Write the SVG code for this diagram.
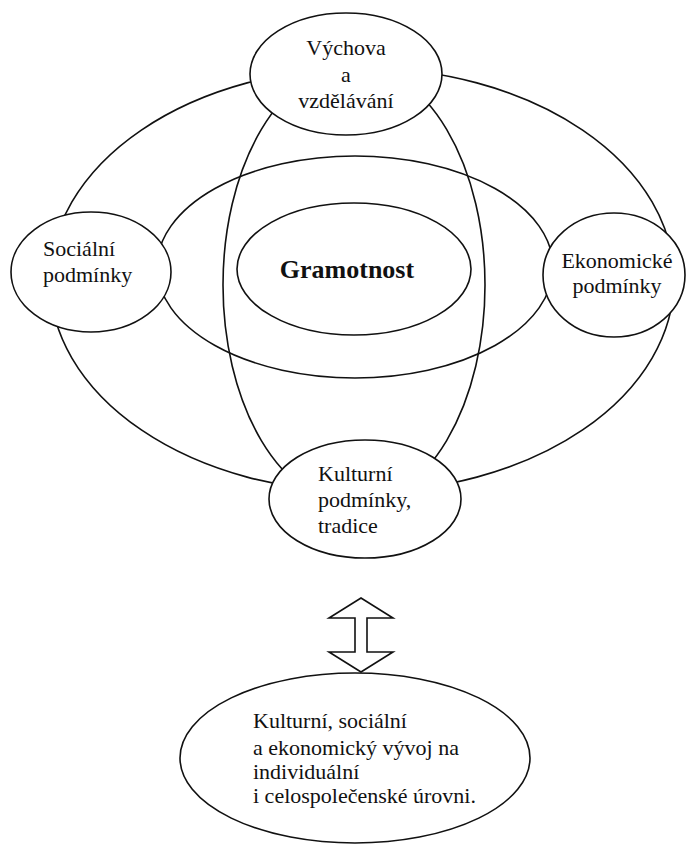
<svg xmlns="http://www.w3.org/2000/svg" width="686" height="845" viewBox="0 0 686 845">
<style>
.ring{fill:none;stroke:#111;stroke-width:1.6}
.node{fill:#fff;stroke:#111;stroke-width:1.6}
.t{font-family:'Liberation Serif','Times New Roman',Times,serif;font-size:22px;fill:#111}
.c{text-anchor:middle}
.b{font-weight:bold;font-size:26px}
</style>
<rect width="686" height="845" fill="#fff"/>
<g id="rings">
<ellipse class="ring" cx="362" cy="280" rx="312" ry="212"/>
<ellipse class="ring" cx="355" cy="267" rx="198" ry="111"/>
<ellipse class="ring" cx="354" cy="285" rx="131" ry="220"/>
</g>
<g id="connectors">
<path class="ring" d="M361 598 L393 618 L367 618 L367 652 L393 652 L361 672 L329 652 L355 652 L355 618 L329 618 Z"/>
</g>
<g id="gramotnost">
<ellipse class="ring" cx="354" cy="269" rx="117" ry="66"/>
<text class="t c b" x="347" y="278">Gramotnost</text>
</g>
<g id="vychova">
<ellipse class="node" cx="346" cy="74" rx="96" ry="61"/>
<text class="t c" x="346" y="55">Výchova</text>
<text class="t c" x="346" y="82">a</text>
<text class="t c" x="346" y="108">vzdělávání</text>
</g>
<g id="socialni">
<ellipse class="node" cx="91" cy="272" rx="80" ry="60"/>
<text class="t" x="43" y="256">Sociální</text>
<text class="t" x="43" y="282">podmínky</text>
</g>
<g id="ekonomicke">
<ellipse class="node" cx="614" cy="275" rx="71" ry="62"/>
<text class="t c" x="617" y="268">Ekonomické</text>
<text class="t c" x="617" y="293">podmínky</text>
</g>
<g id="kulturni">
<ellipse class="node" cx="365" cy="499" rx="96" ry="59"/>
<text class="t" x="318" y="481">Kulturní</text>
<text class="t" x="318" y="507">podmínky,</text>
<text class="t" x="318" y="533">tradice</text>
</g>
<g id="vyvoj">
<ellipse class="node" cx="355" cy="758" rx="175" ry="85"/>
<text class="t" x="253" y="728">Kulturní, sociální</text>
<text class="t" x="253" y="755">a ekonomický vývoj na</text>
<text class="t" x="253" y="779">individuální</text>
<text class="t" x="253" y="803">i celospolečenské úrovni.</text>
</g>
</svg>
